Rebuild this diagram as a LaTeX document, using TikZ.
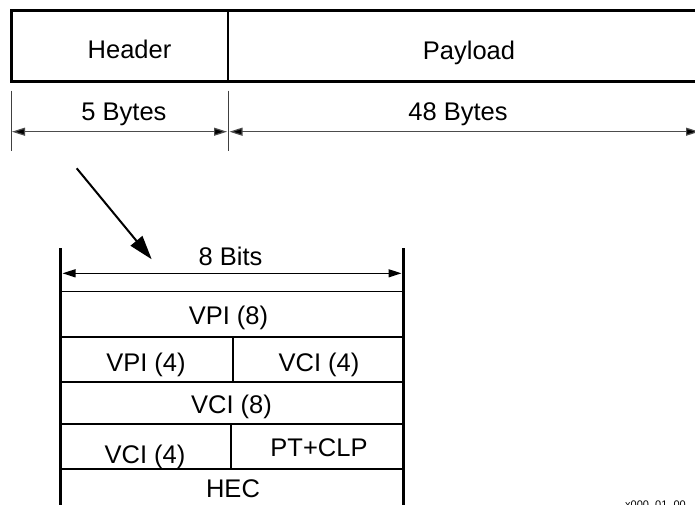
\documentclass[tikz,border=0pt]{standalone}
\usepackage{fontspec}
\setmainfont{Liberation Sans}
\usetikzlibrary{arrows.meta}
\begin{document}
\begin{tikzpicture}[x=1pt,y=-1pt,
  lbl/.style={inner sep=0pt,anchor=base,font=\fontsize{25.5}{28}\selectfont},
  thickbox/.style={line width=3pt},
  divider/.style={line width=1.3pt},
  tick/.style={line width=1pt,draw=black!75},
  dimarrow/.style={line width=1.2pt,draw=black!70,{Triangle[length=13pt,width=8pt,fill=black]}-{Triangle[length=13pt,width=8pt,fill=black]}},
  tablewall/.style={line width=2.5pt},
  rowline/.style={line width=1.3pt},
  bigarrow/.style={line width=2pt,-{Triangle[length=24pt,width=15pt]}}
]
\useasboundingbox (0,0) rectangle (695,504);
\clip (0,0) rectangle (695,504);
\fill[white] (0,0) rectangle (695,504);

% top cell
\draw[thickbox] (720,10.7) -- (11,10.7) -- (11,81.7) -- (720,81.7);
\draw[divider] (228,10.7) -- (228,81.7);
\node[lbl] (header) at (129.5,58) {Header};
\node[lbl] (payload) at (469,59) {Payload};

% byte dimensions
\coordinate (t1a) at (11,90.7); \coordinate (t1b) at (11,150.7);
\coordinate (t2a) at (228,90.7); \coordinate (t2b) at (228,150.7);
\draw[tick] (t1a) -- (t1b);
\draw[tick] (t2a) -- (t2b);
\coordinate (d1l) at (12,131.7); \coordinate (d1r) at (227,131.7);
\coordinate (d2l) at (229.5,131.7); \coordinate (d2r) at (699,131.7);
\draw[dimarrow] (d1l) -- (d1r);
\draw[dimarrow] (d2l) -- (d2r);
\node[lbl] (fiveb) at (124,120.7) {5 Bytes};
\node[lbl] (fortyeight) at (458,120.7) {48 Bytes};

% diagonal arrow
\coordinate (diagS) at (76.7,168.3);
\coordinate (diagE) at (151.7,259.3);
\draw[bigarrow] (diagS) -- (diagE);

% header table
\draw[tablewall] (60.7,248.3) -- (60.7,510);
\draw[tablewall] (403.3,248.3) -- (403.3,510);
\coordinate (bl) at (62.5,273.3); \coordinate (br) at (401.5,273.3);
\draw[dimarrow,draw=black,line width=1.3pt] (bl) -- (br);
\node[lbl] (bits) at (230.5,265.7) {8 Bits};

\foreach \yy in {291.7,337,382,424,469}
  \draw[rowline] (60.7,\yy) -- (403.3,\yy);
\draw[rowline] (233,337) -- (233,382);
\draw[rowline] (231,424) -- (231,469);

\node[lbl] (vpi8) at (228.5,324.3) {VPI (8)};
\node[lbl] (vpi4) at (146,371.5) {VPI (4)};
\node[lbl] (vci4a) at (319,371.5) {VCI (4)};
\node[lbl] (vci8) at (231.5,413) {VCI (8)};
\node[lbl] (vci4b) at (145,463) {VCI (4)};
\node[lbl] (ptclp) at (319,456) {PT+CLP};
\node[lbl] (hec) at (233,497) {HEC};

\node[inner sep=0pt,anchor=base west,font=\fontsize{11}{12}\selectfont] (fig) at (625,508.5) {x000\_01\_00};
\end{tikzpicture}
\end{document}
